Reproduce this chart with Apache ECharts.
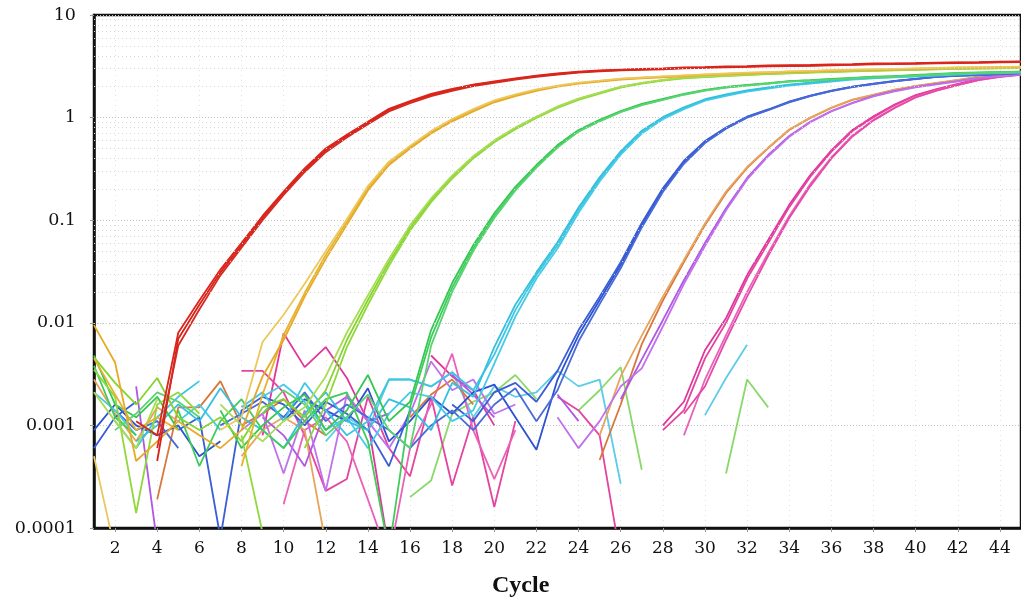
<!DOCTYPE html>
<html>
<head>
<meta charset="utf-8">
<script src="https://cdn.jsdelivr.net/npm/echarts@6/dist/echarts.min.js"></script>
<style>html,body{margin:0;padding:0;background:#fff}#c{width:1021px;height:600px}</style>
</head>
<body>
<div id="c"></div>
<script>
const _ = null;
const cycles = [1,2,3,4,5,6,7,8,9,10,11,12,13,14,15,16,17,18,19,20,21,22,23,24,25,26,27,28,29,30,31,32,33,34,35,36,37,38,39,40,41,42,43,44,45];
const xTickLabels = [2,4,6,8,10,12,14,16,18,20,22,24,26,28,30,32,34,36,38,40,42,44];
const yTickLabels = ['0.0001','0.001','0.01','0.1','1','10'];

const ntcGreen = [_,_,_,_,_, _,_,_,_,_, _,_,_,_,_, 0.0002,0.00029,0.0013,0.0017,0.0021, 0.0031,0.0018,_,0.0014,0.0022, 0.0037,0.00037,_,_,_, 0.00034,0.0028,0.0015,_,_, _,_,_,_,_, _,_,_,_,_];
const ntcCyan = [_,_,_,_,_, _,_,_,_,_, _,0.0007,0.0012,0.0009,0.0028, 0.0028,0.0024,0.0033,0.0012,0.0024, 0.0019,0.0021,0.0034,0.0024,0.0028, 0.00027,_,_,_,0.00126, 0.0029,0.0061,_,_,_, _,_,_,_,_, _,_,_,_,_];

const mag1 = [_,_,_,_,_, _,_,_,0.0008,0.0079, 0.0037,0.0058,0.0029,0.0011,0.00006, _,0.0048,0.0030,0.0022,0.0010, _,_,_,_,_, _,_,0.0010,0.0017,0.0054, 0.0111,0.0292,0.064,0.141,0.276, 0.48,0.757,1.03,1.34,1.66, 1.9,2.13,2.38,2.54,2.66];
const mag2 = [_,_,_,_,_, _,_,0.0034,0.0034,0.0021, 0.0008,0.00023,0.0003,0.0019,0.0006, 0.00032,0.0019,0.00026,0.0012,0.00016, 0.0011,_,0.0019,0.0014,0.0008, 0.00005,_,0.0009,0.0014,0.0045, 0.0100,0.027,0.060,0.134,0.265, 0.465,0.74,1.01,1.32,1.64, 1.88,2.11,2.36,2.52,2.64];
const mag3 = [_,_,_,_,_, _,_,_,_,0.00017, 0.0009,0.0012,0.0007,0.00019,0.00005, 0.0006,0.0016,0.0050,0.0009,0.0003, 0.0009,_,_,_,_, _,_,_,0.0008,0.0028, 0.0076,0.020,0.048,0.11,0.225, 0.41,0.67,0.95,1.25,1.58, 1.84,2.08,2.33,2.5,2.62];
const mag4 = [_,_,_,_,_, _,_,_,_,_, _,_,_,_,_, _,_,_,_,_, _,_,_,_,_, _,_,_,0.0013,0.0024, 0.0068,0.018,0.045,0.105,0.215, 0.40,0.655,0.94,1.24,1.57, 1.83,2.07,2.32,2.49,2.61];

const orange1 = [_,_,_,0.00019,0.0015, 0.0015,0.0027,0.0010,0.0013,0.0018, 0.0011,0.0008,_,_,_, 0.0012,0.0020,0.0028,0.0016,_, _,_,_,_,0.00046, 0.0016,0.0062,0.0165,0.039,0.0897, 0.184,0.323,0.505,0.757,0.99, 1.24,1.49,1.66,1.86,2.03, 2.17,2.32,2.5,2.6,2.72];
const orange2 = [0.0028,0.0013,0.0007,0.0015,0.0011, _,_,0.0005,0.0009,0.0012, 0.0009,0.00007,_,_,_, _,_,_,_,_, _,_,_,_,0.0008, 0.0030,0.0075,0.018,0.041,0.093, 0.19,0.33,0.51,0.765,1.0, 1.25,1.5,1.67,1.87,2.04, 2.18,2.33,2.51,2.61,2.73];
const purple1 = [0.0011,_,0.0024,0.00007,_, _,_,_,0.0012,0.0008, 0.0004,0.0014,0.0019,0.0011,0.0013, _,_,0.0031,0.0020,0.0012, _,_,0.0020,0.0011,_, 0.0018,0.0044,0.0106,0.026,0.06, 0.131,0.258,0.432,0.662,0.91, 1.16,1.39,1.63,1.82,1.99, 2.13,2.27,2.44,2.54,2.66];
const purple2 = [_,_,_,_,_, _,_,0.0009,0.0013,0.00034, 0.0014,0.00023,0.0020,0.0011,0.0006, 0.0013,0.0042,0.0022,0.0028,0.0013, 0.0016,_,0.0012,0.0006,0.0011, 0.0024,0.0036,0.0092,0.024,0.056, 0.125,0.25,0.42,0.65,0.9, 1.15,1.38,1.61,1.8,1.97, 2.11,2.25,2.42,2.52,2.64];

const blue1 = [0.0009,0.0016,0.0010,0.0008,0.0010, 0.0005,0.0007,_,_,0.0011, 0.0018,0.0014,0.0011,0.0023,0.0007, 0.0011,0.0019,0.0013,0.0021,0.0025, 0.0012,0.00058,0.0028,0.0076,0.0167, 0.0366,0.0897,0.197,0.369,0.578, 0.79,1.01,1.19,1.42,1.63, 1.82,1.99,2.13,2.27,2.38, 2.5,2.56,2.6,2.66,2.72];
const blue2 = [0.0006,0.0012,0.0017,_,0.0009, 0.0012,0.00008,0.0014,0.0019,0.0016, 0.0010,0.0017,0.0013,0.0009,0.0004, 0.0014,_,0.0016,0.0011,0.0021, 0.0026,0.0017,0.0034,0.0085,0.0180, 0.039,0.094,0.205,0.38,0.59, 0.80,1.02,1.2,1.43,1.64, 1.83,2.0,2.14,2.28,2.39, 2.51,2.57,2.61,2.67,2.73];
const blue3 = [_,0.0014,0.0009,0.0011,0.0006, _,0.0010,0.0013,0.0017,0.0012, 0.0021,0.0011,0.0016,0.0012,0.0009, 0.0006,0.0010,0.0014,0.0009,0.0016, 0.0023,0.0011,0.0022,0.0066,0.0152, 0.034,0.085,0.188,0.355,0.565, 0.78,1.0,1.18,1.41,1.62, 1.81,1.98,2.12,2.26,2.37, 2.49,2.55,2.59,2.65,2.71];

const cyan1 = [_,0.0011,0.0006,0.0012,0.0019, 0.0027,_,0.0015,0.0021,0.0011, 0.0026,0.0014,0.0008,0.0011,0.0028, 0.0028,0.0024,0.0033,0.0022,0.0049, 0.0133,0.0292,0.057,0.126,0.25, 0.452,0.724,0.99,1.24,1.49, 1.66,1.82,1.95,2.08,2.17, 2.27,2.38,2.44,2.5,2.54, 2.6,2.66,2.72,2.74,2.78];
const cyan2 = [0.0021,0.0014,0.0008,_,0.0011, 0.0016,0.0009,_,0.0019,0.0025, 0.0017,0.0009,0.0012,0.0006,0.0013, 0.0021,0.0019,0.0011,0.0014,0.0040, 0.0115,0.027,0.053,0.118,0.238, 0.435,0.70,0.965,1.21,1.46, 1.63,1.79,1.92,2.05,2.14, 2.24,2.35,2.41,2.47,2.51, 2.57,2.63,2.69,2.71,2.75];
const cyan3 = [_,_,0.0007,0.0010,0.0016, 0.0011,0.0023,0.0012,0.0009,0.0006, 0.0013,0.0021,0.0011,0.0009,0.0018, 0.0015,0.0009,0.0026,0.0019,0.0058, 0.0150,0.031,0.061,0.133,0.262, 0.468,0.745,1.01,1.26,1.51, 1.68,1.84,1.97,2.1,2.19, 2.29,2.4,2.46,2.52,2.56, 2.62,2.68,2.73,2.76,2.8];

const green1 = [0.0048,0.0016,0.0012,0.0019,0.0009, _,0.0014,0.0006,0.0010,0.0015, 0.0020,0.0009,0.0014,0.0031,0.0011, 0.0017,0.0085,0.0244,0.057,0.117, 0.211,0.345,0.54,0.757,0.95, 1.16,1.36,1.52,1.70,1.86, 1.99,2.08,2.17,2.27,2.32, 2.38,2.44,2.5,2.54,2.6, 2.66,2.72,2.75,2.78,2.8];
const green2 = [0.0038,0.0012,0.0008,_,0.0014, 0.0004,0.0011,0.0018,0.0009,0.0006, 0.0011,0.0018,0.0021,0.0007,0.00006, 0.0015,0.0072,0.022,0.053,0.11, 0.20,0.335,0.525,0.74,0.93, 1.14,1.33,1.5,1.68,1.84, 1.97,2.06,2.15,2.25,2.3, 2.36,2.42,2.48,2.52,2.58, 2.64,2.7,2.73,2.76,2.78];
const green3 = [_,0.0009,0.0013,0.0021,0.0017, 0.0012,_,_,0.0013,0.0022, 0.0016,0.0008,0.0012,0.0020,0.0009, 0.0006,0.0060,0.020,0.050,0.105, 0.195,0.325,0.51,0.73,0.92, 1.13,1.32,1.49,1.67,1.83, 1.96,2.05,2.14,2.24,2.29, 2.35,2.41,2.47,2.51,2.57, 2.63,2.69,2.72,2.75,2.77];

const lime1 = [0.0046,0.0026,0.0016,0.0029,0.0012, 0.0009,0.0012,0.0007,0.0015,0.0018, 0.0012,0.0022,0.0068,0.0167,0.039, 0.084,0.157,0.264,0.413,0.59, 0.79,1.01,1.27,1.52,1.74, 1.99,2.17,2.32,2.44,2.5, 2.56,2.62,2.67,2.72,2.76, 2.8,2.84,2.88,2.91,2.94, 2.97,3.0,3.02,3.04,3.06];
const lime2 = [0.0035,0.0019,0.00014,0.0016,0.0021, 0.0013,_,0.0008,0.00009,_, 0.0006,0.0016,0.0058,0.0150,0.036, 0.079,0.150,0.255,0.40,0.575, 0.77,0.99,1.24,1.49,1.71, 1.96,2.14,2.29,2.41,2.48, 2.54,2.6,2.65,2.7,2.74, 2.78,2.82,2.86,2.89,2.92, 2.95,2.98,3.0,3.02,3.04];
const lime3 = [0.0021,0.0011,0.0006,0.0018,_, _,0.0016,0.0010,0.0007,0.0011, 0.0015,0.0030,0.0080,0.0185,0.042, 0.089,0.163,0.272,0.42,0.60, 0.80,1.02,1.28,1.53,1.75, 2.0,2.18,2.33,2.45,2.51, 2.57,2.63,2.68,2.73,2.77, 2.81,2.85,2.89,2.92,2.95, 2.98,3.01,3.03,3.05,3.07];

const gold1 = [0.0045,0.0020,0.0009,0.0012,0.0009, _,_,0.0004,0.0020,0.0076, 0.0195,0.0458,0.096,0.206,0.361, 0.516,0.724,0.95,1.19,1.45, 1.66,1.86,2.03,2.17,2.27, 2.38,2.44,2.5,2.56,2.62, 2.67,2.72,2.76,2.8,2.84, 2.88,2.91,2.94,2.97,3.0, 3.03,3.06,3.08,3.1,3.12];
const gold2 = [0.0095,0.0041,0.00045,0.0007,0.0011, 0.0008,0.0006,0.0009,0.0030,0.0068, 0.0180,0.042,0.090,0.195,0.345, 0.50,0.70,0.92,1.15,1.41, 1.62,1.82,2.0,2.14,2.24, 2.34,2.41,2.47,2.53,2.59, 2.64,2.69,2.73,2.77,2.81, 2.85,2.88,2.91,2.94,2.97, 3.0,3.03,3.05,3.07,3.09];
const gold3 = [0.0005,0.00006,_,_,_, _,0.0009,0.0012,0.0065,0.0120, 0.024,0.050,0.102,0.215,0.372, 0.53,0.74,0.97,1.21,1.47, 1.68,1.88,2.05,2.19,2.29, 2.4,2.46,2.52,2.58,2.64, 2.69,2.74,2.78,2.82,2.86, 2.9,2.93,2.96,2.99,3.02, 3.05,3.08,3.1,3.12,3.14];

const red1 = [_,_,_,0.00045,0.0070, 0.0150,0.031,0.057,0.105,0.184, 0.308,0.48,0.66,0.88,1.19, 1.42,1.66,1.86,2.08,2.22, 2.38,2.54,2.66,2.78,2.85, 2.91,2.95,2.98,3.05,3.08, 3.12,3.14,3.19,3.2,3.22, 3.26,3.28,3.34,3.35,3.37, 3.41,3.43,3.45,3.48,3.5];
const red2 = [_,_,_,0.0006,0.0060, 0.0135,0.029,0.054,0.100,0.176, 0.295,0.46,0.64,0.86,1.15, 1.38,1.62,1.82,2.03,2.18, 2.34,2.5,2.62,2.74,2.82, 2.88,2.92,2.96,3.02,3.05, 3.09,3.12,3.16,3.18,3.2, 3.23,3.26,3.3,3.32,3.35, 3.38,3.4,3.42,3.45,3.47];
const red3 = [_,_,0.0011,0.0008,0.0080, 0.0165,0.033,0.060,0.110,0.19, 0.32,0.50,0.68,0.91,1.22, 1.45,1.70,1.9,2.1,2.25, 2.41,2.57,2.69,2.8,2.88, 2.94,2.98,3.02,3.08,3.11, 3.15,3.18,3.22,3.24,3.26, 3.3,3.32,3.37,3.38,3.4, 3.44,3.46,3.48,3.51,3.53];

const seriesDefs = [
  ['ntcGreen', ntcGreen, '#8ad86a'], ['ntcCyan', ntcCyan, '#5ccde6'],
  ['mag1', mag1, '#e0369c'], ['mag2', mag2, '#e4449f'], ['mag3', mag3, '#ea62b8'], ['mag4', mag4, '#e64aa8'],
  ['orange1', orange1, '#d9773a'], ['orange2', orange2, '#e8a45c'], ['purple1', purple1, '#ae58e4'], ['purple2', purple2, '#c070ea'],
  ['blue1', blue1, '#2c52d2'], ['blue2', blue2, '#3a5ed6'], ['blue3', blue3, '#4a6ad8'],
  ['cyan1', cyan1, '#3cc6e2'], ['cyan2', cyan2, '#46cbe6'], ['cyan3', cyan3, '#34c0de'],
  ['green1', green1, '#34c850'], ['green2', green2, '#40cc5c'], ['green3', green3, '#5ad472'],
  ['lime1', lime1, '#84d42e'], ['lime2', lime2, '#90d83e'], ['lime3', lime3, '#a8dc52'],
  ['gold1', gold1, '#e8b22c'], ['gold2', gold2, '#e6aa28'], ['gold3', gold3, '#ecc85c'],
  ['red1', red1, '#d8201c'], ['red2', red2, '#d42a22'], ['red3', red3, '#dc2418']
];

// faint minor grid values (2..9 x each decade)
const minorGrid = [];
for (let e = -4; e < 1; e++) for (let m = 2; m <= 9; m++) minorGrid.push(m * Math.pow(10, e));

const series = seriesDefs.map(([name, vals, color], i) => ({
  name, type: 'line', showSymbol: false, symbol: 'none', silent: true,
  data: cycles.map((c, k) => [c, vals[k] === null ? '-' : vals[k]]),
  lineStyle: { color, width: 1.8 }, itemStyle: { color },
  connectNulls: false, animation: false, z: 3
}));
series.unshift({
  name: 'grid', type: 'line', data: [[1, 1]], showSymbol: false, symbol: 'none', silent: true,
  lineStyle: { opacity: 0 }, z: 1,
  markLine: { silent: true, symbol: 'none', animation: false, label: { show: false },
    lineStyle: { type: [1, 3], color: '#d6d6d6', width: 1 },
    data: minorGrid.map(v => ({ yAxis: v })) }
});

const chart = echarts.init(document.getElementById('c'), null, { renderer: 'canvas' });
chart.setOption({
  animation: false,
  backgroundColor: '#fff',
  grid: { left: 94, right: -8, top: 15, bottom: 72, show: true, borderColor: '#111', borderWidth: 2.5, backgroundColor: 'transparent' },
  xAxis: {
    type: 'value', min: 1, max: 45,
    axisLine: { show: true, lineStyle: { color: '#111', width: 2.5 } },
    axisTick: { show: true, customValues: xTickLabels, length: 4, lineStyle: { color: '#999' } },
    axisLabel: { customValues: xTickLabels, color: '#111', fontFamily: 'DejaVu Serif', fontSize: 17, margin: 12 },
    splitLine: { show: true, lineStyle: { type: [1, 4], color: '#e2e2e2' } }
  },
  yAxis: {
    type: 'log', logBase: 10, min: 0.0001, max: 10,
    axisLine: { show: true, lineStyle: { color: '#111', width: 2.5 } },
    axisTick: { show: true, length: 4, lineStyle: { color: '#999' } },
    axisLabel: { color: '#111', fontFamily: 'DejaVu Serif', fontSize: 17.5, margin: 18,
      formatter: v => yTickLabels[Math.round(Math.log10(v)) + 4] },
    splitLine: { show: true, lineStyle: { type: [1, 2], color: '#c4c4c4' } }
  },
  graphic: [{ type: 'text', left: 492, top: 574,
    style: { text: 'Cycle', font: 'bold 24px "Liberation Serif"', fill: '#111' } }],
  series
});
</script>
</body>
</html>
